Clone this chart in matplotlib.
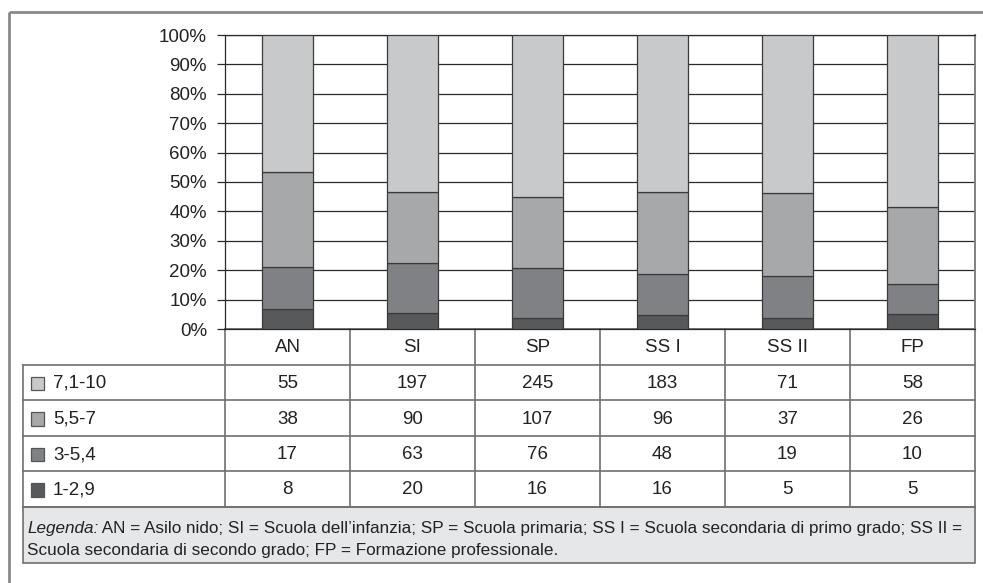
import matplotlib
matplotlib.use("Agg")
import matplotlib.pyplot as plt
import numpy as np
from matplotlib.patches import Rectangle

plt.rcParams['font.family'] = ['Liberation Sans', 'DejaVu Sans']

# Data: number of cases per grade band and school level
categories = ["AN", "SI", "SP", "SS I", "SS II", "FP"]
series_names = ["7,1-10", "5,5-7", "3-5,4", "1-2,9"]          # table order (top to bottom)
counts = {
    "7,1-10": [55, 197, 245, 183, 71, 58],
    "5,5-7":  [38, 90, 107, 96, 37, 26],
    "3-5,4":  [17, 63, 76, 48, 19, 10],
    "1-2,9":  [8, 20, 16, 16, 5, 5],
}
colors = {
    "7,1-10": "#c8c9cb",
    "5,5-7":  "#a7a8aa",
    "3-5,4":  "#808184",
    "1-2,9":  "#58595b",
}
yticks = [0, 10, 20, 30, 40, 50, 60, 70, 80, 90, 100]
legend_italic = "Legenda:"
legend_line1 = (" AN = Asilo nido; SI = Scuola dell\u2019infanzia; SP = Scuola primaria; "
                "SS I = Scuola secondaria di primo grado; SS II =")
legend_line2 = "Scuola secondaria di secondo grado; FP = Formazione professionale."

W, H = 983, 583
FS = 13.5
TXT = "#222222"
fig = plt.figure(figsize=(W / 100, H / 100), dpi=100)
fig.patch.set_facecolor("white")

# Overlay in pixel coordinates for the frame and the data table
bg = fig.add_axes([0, 0, 1, 1], zorder=0)
bg.set_xlim(0, W)
bg.set_ylim(H, 0)
bg.axis("off")

# Chart area
PL, PR, PT, PB = 225, 975, 35, 329
ax = fig.add_axes([PL / W, 1 - PB / H, (PR - PL) / W, (PB - PT) / H], zorder=2)
ax.set_facecolor("none")

x = np.arange(len(categories))
totals = np.sum([counts[s] for s in series_names], axis=0)
bottom = np.zeros(len(categories))
for s in reversed(series_names):
    pct = np.array(counts[s]) / totals * 100
    ax.bar(x, pct, bottom=bottom, width=0.41, color=colors[s],
           edgecolor="#3a3a3a", linewidth=0.9, zorder=3)
    bottom += pct

ax.set_xlim(-0.5, len(categories) - 0.5)
ax.set_ylim(0, 100)
ax.set_yticks(yticks)
ax.set_yticklabels([f"{t}%" for t in yticks], fontsize=FS, color=TXT)
ax.set_xticks([])
ax.yaxis.grid(True, color="#2a2a2a", linewidth=0.9, zorder=1)
ax.tick_params(axis="y", length=6, width=0.9, color="#2a2a2a", pad=7)
for side in ["left", "right", "top", "bottom"]:
    ax.spines[side].set_color("#2a2a2a")
    ax.spines[side].set_linewidth(0.9)
ax.spines["right"].set_color("#777777")
ax.spines["right"].set_linewidth(1.3)

# Outer frame (left and top edges)
frame_c = "#8a8a8a"
bg.plot([9, 9], [12, H], color=frame_c, lw=2.0, solid_capstyle="butt")
bg.plot([9, W], [12, 12], color=frame_c, lw=2.0, solid_capstyle="butt")

# Data table
TL, TR = 23, 975
col_w = (PR - PL) / len(categories)
row_edges = [PB, 365, 400, 436, 471, 507]
LEG_BOT = 563
line_c = "#6f6f6f"

# legend box
bg.add_patch(Rectangle((TL, row_edges[-1]), TR - TL, LEG_BOT - row_edges[-1],
                       facecolor="#e6e7e8", edgecolor=line_c, lw=1.2, zorder=1))

# horizontal rules
bg.plot([PL, TR], [row_edges[0], row_edges[0]], color=line_c, lw=1.2)
for yv in row_edges[1:]:
    bg.plot([TL, TR], [yv, yv], color=line_c, lw=1.2)
# vertical rules
bg.plot([TL, TL], [row_edges[1], row_edges[-1]], color=line_c, lw=1.2)
for k in range(len(categories) + 1):
    xv = PL + k * col_w
    bg.plot([xv, xv], [row_edges[0], row_edges[-1]], color=line_c, lw=1.2)

# header row
for k, c in enumerate(categories):
    bg.text(PL + (k + 0.5) * col_w, (row_edges[0] + row_edges[1]) / 2 + 1, c,
            ha="center", va="center", fontsize=FS, color=TXT)

# body rows
for r, s in enumerate(series_names):
    yc = (row_edges[r + 1] + row_edges[r + 2]) / 2 + 1
    bg.add_patch(Rectangle((31, yc - 7), 13, 13.5, facecolor=colors[s],
                           edgecolor="#555555", lw=0.9, zorder=2))
    bg.text(53, yc, s, ha="left", va="center", fontsize=FS, color=TXT)
    for k, v in enumerate(counts[s]):
        bg.text(PL + (k + 0.5) * col_w, yc, str(v), ha="center", va="center",
                fontsize=FS, color=TXT)

# legend text
leg_fs = 12.3
t_it = bg.text(27, 528, legend_italic, ha="left", va="center", fontsize=leg_fs,
               style="italic", color=TXT, zorder=3)
fig.canvas.draw()
r = fig.canvas.get_renderer()
bb = t_it.get_window_extent(renderer=r)
bg.text(bb.x1, 528, legend_line1, ha="left", va="center", fontsize=leg_fs,
        color=TXT, zorder=3)
bg.text(27, 550, legend_line2, ha="left", va="center", fontsize=leg_fs,
        color=TXT, zorder=3)

fig.savefig("out.png", dpi=100)
